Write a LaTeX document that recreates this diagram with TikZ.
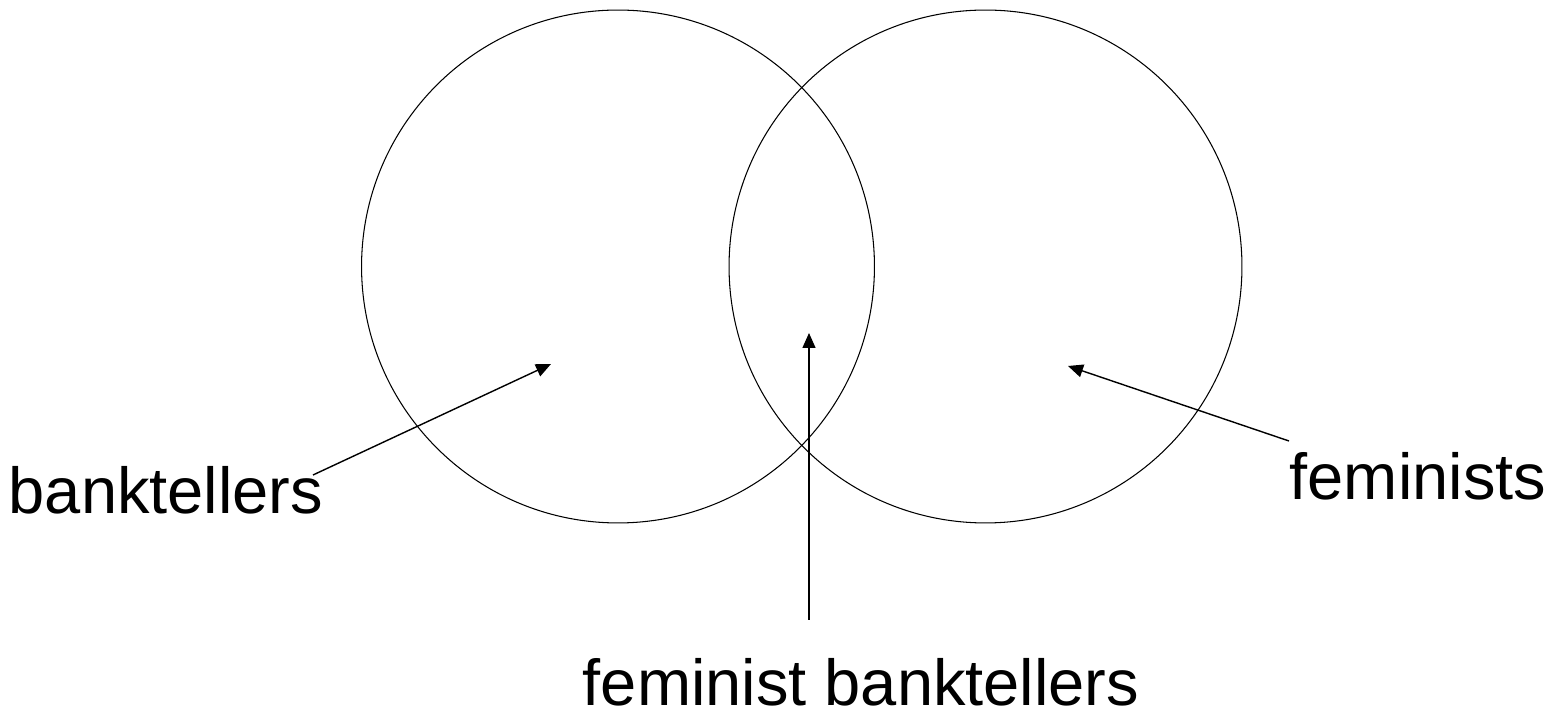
\documentclass[tikz,border=0pt]{standalone}
\usepackage{fontspec}
\setmainfont{Liberation Sans}
\usetikzlibrary{arrows.meta}
\begin{document}
\begin{tikzpicture}[x=0.02cm,y=-0.02cm,
  setcircle/.style={circle, draw, line width=0.6pt, minimum size=10.26cm, inner sep=0pt},
  label/.style={font=\fontsize{37}{42}\selectfont, anchor=base, inner sep=0pt},
  pointer/.style={line width=0.8pt, -{Triangle[length=0.3cm, width=0.26cm]}}]
\useasboundingbox (0,0) rectangle (1552,715);
\node[setcircle] (L) at (618,266.5) {};
\node[setcircle] (R) at (985.5,266.5) {};
\node[label] (bt) at (166,514) {banktellers};
\node[label] (fm) at (1418,500) {feminists};
\node[label] (fb) at (861,705) {feminist banktellers};
\coordinate (btS) at (313,475);
\coordinate (btT) at (551,364);
\coordinate (fmS) at (1289,441);
\coordinate (fmT) at (1068,366);
\coordinate (fbS) at (809,620);
\coordinate (fbT) at (809,333);
\draw[pointer] (btS) -- (btT);
\draw[pointer] (fmS) -- (fmT);
\draw[pointer] (fbS) -- (fbT);
\end{tikzpicture}
\end{document}
